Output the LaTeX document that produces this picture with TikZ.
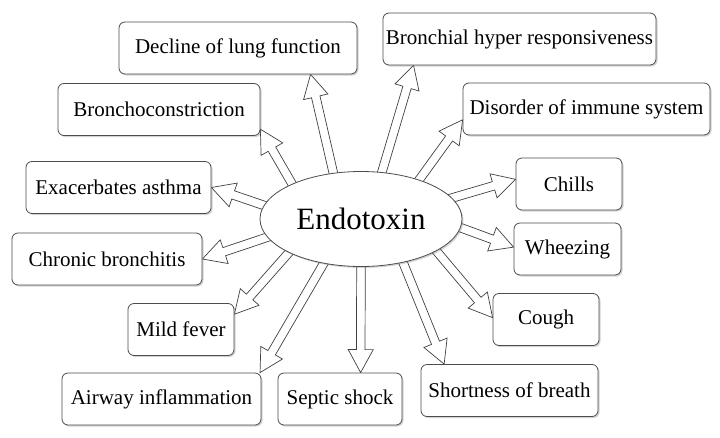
\documentclass[tikz,border=0pt]{standalone}
\usepackage{fontspec}
\setmainfont{Liberation Serif}
\usepackage{tikz}
\usetikzlibrary{shapes.geometric}
\usetikzlibrary{calc}
\usetikzlibrary{shadows}
\usetikzlibrary{backgrounds}
\tikzset{
every node/.style={rectangle, draw=black!70, rounded corners=6pt, fill=white, line width=0.8pt,
  minimum height=52pt, inner xsep=2pt, font=\fontsize{21}{24}\selectfont,
  drop shadow={opacity=0.35, shadow xshift=1.5pt, shadow yshift=-1.5pt}},
fat arrow/.style={draw=black!75, line width=0.7pt, line join=miter}
}
% hollow block arrow from #1 to #2
\newcommand{\fatarrow}[2]{%
  \path (#1) coordinate (fa-s) (#2) coordinate (fa-t);
  \path ($(fa-s)!-3pt!(fa-t)$) coordinate (fa-s) ($(fa-t)!23pt!(fa-s)$) coordinate (fa-n);
  \begin{pgfonlayer}{background}
  \draw[fat arrow] ($(fa-s)!4.3pt!90:(fa-t)$) -- ($(fa-n)!4.3pt!90:(fa-t)$) -- ($(fa-n)!12.5pt!90:(fa-t)$)
    -- (fa-t) -- ($(fa-n)!12.5pt!-90:(fa-t)$) -- ($(fa-n)!4.3pt!-90:(fa-t)$) -- ($(fa-s)!4.3pt!-90:(fa-t)$);
  \end{pgfonlayer}
}

\begin{document}
\begin{tikzpicture}[x=1pt,y=-1pt]
\useasboundingbox (0,0) rectangle (720,437);

\node [ellipse, minimum width=202pt, minimum height=95pt, font=\fontsize{31}{36}\selectfont] (END) at (361,219) {Endotoxin};

\node [minimum width=238pt] (DLF) at (238,48) {Decline of lung function};
\node [minimum width=202pt] (BCO) at (159,109.5) {Bronchoconstriction};
\node [minimum width=185pt] (EXA) at (118.5,187.5) {Exacerbates asthma};
\node [minimum width=190pt] (CHB) at (107,259) {Chronic bronchitis};
\node [minimum width=106pt] (MFE) at (181,329.5) {Mild fever};
\node [minimum width=199pt] (AIR) at (161.5,399) {Airway inflammation};
\node [minimum width=124pt] (SEP) at (340,399) {Septic shock};
\node [minimum width=177pt] (SOB) at (509.5,390.5) {Shortness of breath};
\node [minimum width=106pt] (COU) at (546,319.5) {Cough};
\node [minimum width=107pt] (WHE) at (567.5,249) {Wheezing};
\node [minimum width=106pt] (CHI) at (569,184) {Chills};
\node [minimum width=247pt] (DIS) at (586.5,109) {Disorder of immune system};
\node [minimum width=273pt] (BHR) at (519.5,39) {Bronchial hyper responsiveness};

\fatarrow{END.121.7}{DLF.-20}
\fatarrow{END.153}{BCO.-11.5}
\fatarrow{END.172}{EXA.east}
\fatarrow{END.-169.6}{CHB.east}
\fatarrow{END.-155}{MFE.16.3}
\fatarrow{END.-130.8}{AIR.15}
\fatarrow{END.-90}{SEP.52.4}
\fatarrow{END.-46.3}{SOB.158.9}
\fatarrow{END.-23.2}{COU.178.4}
\fatarrow{END.-5.3}{WHE.178.9}
\fatarrow{END.13.2}{CHI.175.7}
\fatarrow{END.34.8}{DIS.-175.8}
\fatarrow{END.66.4}{BHR.-166.6}
\end{tikzpicture}
\end{document}
